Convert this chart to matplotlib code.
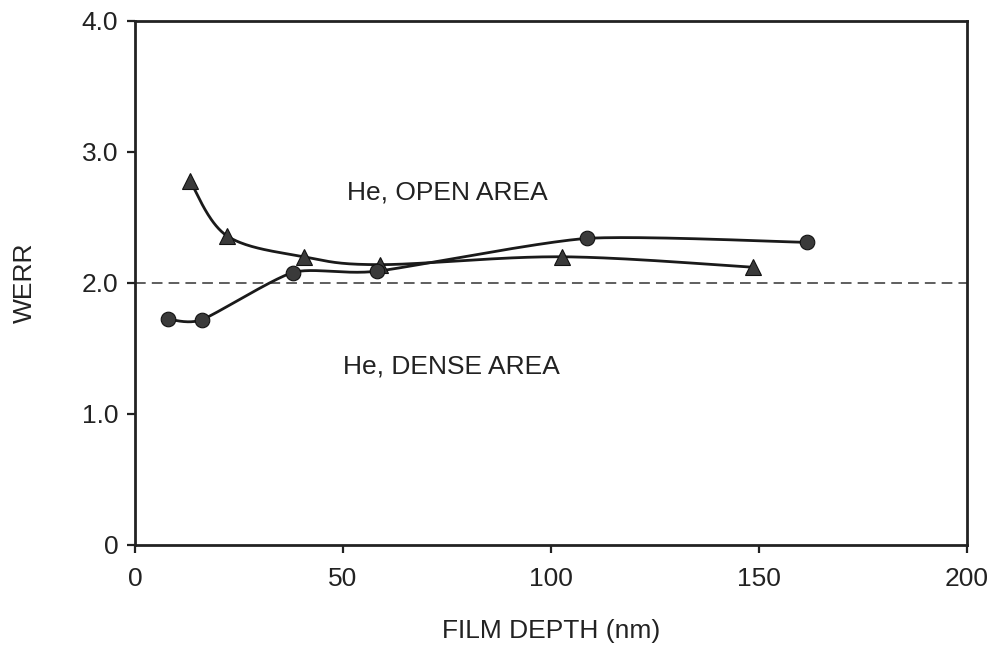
import matplotlib
matplotlib.use('Agg')
import matplotlib.pyplot as plt
import numpy as np

# data
depth_open = [13.2, 22.1, 40.6, 59.0, 102.6, 148.6]
werr_open = [2.78, 2.36, 2.20, 2.14, 2.20, 2.12]
depth_dense = [7.9, 16.1, 38.0, 58.2, 108.6, 161.5]
werr_dense = [1.725, 1.72, 2.08, 2.09, 2.34, 2.31]
xticks = [0, 50, 100, 150, 200]
yticks = [0, 1, 2, 3, 4]
ytick_labels = ['0', '1.0', '2.0', '3.0', '4.0']

plt.rcParams['font.family'] = ['Liberation Sans', 'DejaVu Sans']


def smooth(xs, ys, k=6.0, sx=4.16, sy=131.0, n=40):
    # smoothed line (Catmull-Rom style bezier), done in screen-ish units
    p = np.column_stack([np.array(xs) * sx, np.array(ys) * sy])
    p = np.vstack([p[0], p, p[-1]])
    out = []
    for i in range(1, len(p) - 2):
        p0, p1, p2, p3 = p[i - 1], p[i], p[i + 1], p[i + 2]
        c1 = p1 + (p2 - p0) / k
        c2 = p2 - (p3 - p1) / k
        t = np.linspace(0, 1, n)[:, None]
        seg = ((1 - t) ** 3 * p1 + 3 * (1 - t) ** 2 * t * c1
               + 3 * (1 - t) * t ** 2 * c2 + t ** 3 * p2)
        out.append(seg)
    out = np.vstack(out)
    return out[:, 0] / sx, out[:, 1] / sy


fig = plt.figure(figsize=(9.94, 6.48), dpi=100)
ax = fig.add_axes([0.1358, 0.159, 0.8370, 0.8086])

line_col = '#1a1a1a'
fill_col = '#3a3a3a'

ax.axhline(2.0, color='#333333', lw=1.1, dashes=(7, 4), zorder=1)

sx, sy = smooth(depth_open, werr_open, k=6.0)
ax.plot(sx, sy, color=line_col, lw=2.0, zorder=2)
ax.plot(depth_open, werr_open, ls='none', marker='^', ms=11,
        mfc=fill_col, mec='#111111', mew=0.8, zorder=3)

sx, sy = smooth(depth_dense, werr_dense, k=9.0)
ax.plot(sx, sy, color=line_col, lw=2.0, zorder=2)
ax.plot(depth_dense, werr_dense, ls='none', marker='o', ms=10.5,
        mfc=fill_col, mec='#111111', mew=0.8, zorder=3)

ax.text(51, 2.69, 'He, OPEN AREA', fontsize=19, va='center', ha='left', color='#222222')
ax.text(50, 1.36, 'He, DENSE AREA', fontsize=19, va='center', ha='left', color='#222222')

ax.set_xlim(0, 200)
ax.set_ylim(0, 4)
ax.set_xticks(xticks)
ax.set_yticks(yticks)
ax.set_yticklabels(ytick_labels)
ax.tick_params(axis='both', direction='out', length=6, width=1.6,
               labelsize=19, colors='#222222')
ax.tick_params(axis='x', pad=10)
ax.tick_params(axis='y', pad=6)
for s in ax.spines.values():
    s.set_linewidth(2.0)
    s.set_color('#222222')

ax.set_xlabel('FILM DEPTH (nm)', fontsize=19, color='#222222', labelpad=20)
ax.set_ylabel('WERR', fontsize=19, color='#222222', labelpad=32)

fig.savefig('out.png', dpi=100)
